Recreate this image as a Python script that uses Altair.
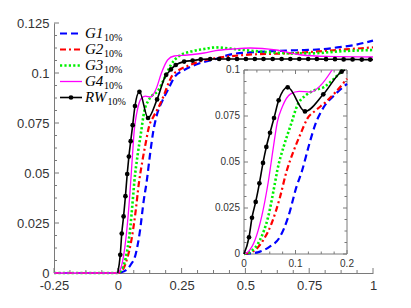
import altair as alt
import pandas as pd

# ---------------- data ----------------
g1_x = [-0.25, 0.0, 0.012, 0.031, 0.05, 0.07, 0.086, 0.102, 0.113, 0.126, 0.139, 0.155, 0.175, 0.2,
        0.22, 0.26, 0.3125, 0.378, 0.45, 0.52, 0.587, 0.66, 0.73, 0.796, 0.86, 0.927, 1.0]
g1_y = [0, 0, 0.0003, 0.0013, 0.004, 0.0094, 0.0203, 0.0366, 0.0455, 0.059, 0.0708, 0.0799, 0.0862, 0.0925,
        0.0975, 0.1015, 0.1045, 0.1068, 0.1095, 0.1103, 0.1108, 0.1112, 0.1115, 0.1118, 0.1128, 0.114, 0.1162]

g2_x = [-0.25, 0.0, 0.01, 0.022, 0.0375, 0.0537, 0.07, 0.082, 0.0958, 0.11, 0.123, 0.139, 0.1586, 0.178,
        0.2, 0.21, 0.24, 0.273, 0.319, 0.378, 0.495, 0.69, 0.89, 1.0]
g2_y = [0, 0, 0.0006, 0.0022, 0.0076, 0.0167, 0.031, 0.0443, 0.0556, 0.0654, 0.0736, 0.078, 0.0826, 0.088,
        0.0953, 0.098, 0.1015, 0.1035, 0.1057, 0.1073, 0.109, 0.110, 0.1118, 0.1128]

g3_x = [-0.25, 0.0, 0.013, 0.031, 0.047, 0.06, 0.0647, 0.0777, 0.0906, 0.1036, 0.1197, 0.136, 0.155, 0.175,
        0.192, 0.208, 0.24, 0.286, 0.338, 0.384, 0.47, 0.58, 0.69, 0.75, 0.89, 1.0]
g3_y = [0, 0, 0.0013, 0.0076, 0.0203, 0.0384, 0.0455, 0.059, 0.0699, 0.0808, 0.0862, 0.0889, 0.0907, 0.0953,
        0.1, 0.104, 0.1085, 0.1107, 0.112, 0.1128, 0.1118, 0.1105, 0.1098, 0.1098, 0.111, 0.1115]

g4_x = [-0.25, 0.0, 0.0084, 0.0214, 0.0343, 0.047, 0.057, 0.0647, 0.0744, 0.0906, 0.107, 0.129, 0.149, 0.171,
        0.195, 0.221, 0.273, 0.338, 0.384, 0.45, 0.52, 0.62, 0.72, 0.82, 1.0]
g4_y = [0, 0, 0.0013, 0.0076, 0.0203, 0.039, 0.058, 0.0717, 0.080, 0.087, 0.0884, 0.088, 0.0917, 0.1,
        0.1065, 0.1085, 0.109, 0.110, 0.1112, 0.112, 0.1125, 0.1115, 0.109, 0.1083, 0.108]

rw_x = [0.0, 0.0097, 0.0155, 0.0227, 0.0299, 0.0369, 0.0434, 0.0505, 0.0583, 0.0673, 0.0848, 0.1184, 0.154,
        0.1896, 0.196, 0.208, 0.227, 0.26, 0.293, 0.325, 0.362, 0.397, 0.433, 0.467, 0.502, 0.537, 0.571,
        0.607, 0.642, 0.676, 0.711, 0.746, 0.78, 0.816, 0.851, 0.885, 0.92, 0.956, 0.989, 1.0]
rw_y = [0.0, 0.0091, 0.0197, 0.0283, 0.0384, 0.0495, 0.0582, 0.0659, 0.0739, 0.0835, 0.0906, 0.0775, 0.0868,
        0.0991, 0.1, 0.1018, 0.104, 0.1057, 0.1062, 0.1068, 0.107, 0.107, 0.107, 0.107, 0.107, 0.107, 0.107,
        0.107, 0.107, 0.107, 0.107, 0.107, 0.107, 0.1069, 0.1069, 0.1068, 0.1068, 0.1067, 0.1067, 0.1067]

rw_dot_x = [0.0097, 0.0155, 0.0227, 0.0299, 0.0369, 0.0434, 0.0505, 0.0583, 0.0673, 0.0848, 0.1184, 0.154,
            0.1896, 0.208, 0.227, 0.26, 0.293, 0.325, 0.362, 0.397, 0.433, 0.467, 0.502, 0.537, 0.571,
            0.607, 0.642, 0.676, 0.711, 0.746, 0.78, 0.816, 0.851, 0.885, 0.92, 0.956, 0.989]
rw_dot_y = [0.0091, 0.0197, 0.0283, 0.0384, 0.0495, 0.0582, 0.0659, 0.0739, 0.0835, 0.0906, 0.0775, 0.0868,
            0.0991, 0.1018, 0.104, 0.1057, 0.1062, 0.1068, 0.107, 0.107, 0.107, 0.107, 0.107, 0.107, 0.107,
            0.107, 0.107, 0.107, 0.107, 0.107, 0.107, 0.1069, 0.1069, 0.1068, 0.1068, 0.1067, 0.1067]

series_names = ["G1", "G2", "G3", "G4", "RW"]
legend_sub = "10%"

main_x_labels = [-0.25, 0, 0.25, 0.5, 0.75, 1]
main_y_labels = [0, 0.025, 0.05, 0.075, 0.1, 0.125]
inset_x_labels = [0, 0.1, 0.2]
inset_x_text = ["0", "0.1", "0.2"]
inset_y_labels = [0, 0.025, 0.05, 0.075, 0.1]
inset_y_text = ["0", "0.025", "0.05", "0.075", "0.1"]

# ---------------- layout / styles ----------------
W, H = 319, 250
AX = "#7a7a7a"
TXT = "#333333"
IL, IR, IT, IB = 190, 293, 47, 231   # inset box inside plot area (pixels)

xs = alt.Scale(domain=[-0.25, 1.0], nice=False, zero=False)
ys = alt.Scale(domain=[0, 0.125], nice=False)
xi = alt.Scale(domain=[0, 0.2], range=[IL, IR], nice=False, zero=False)
yi = alt.Scale(domain=[0, 0.1], range=[IB, IT], nice=False)

lab_expr = "replace(format(datum.value, '.3~f'), '\u2212', '-')"
xax = alt.Axis(title=None, values=main_x_labels, labelExpr=lab_expr,
               ticks=False, grid=False, domainColor=AX, domainWidth=1,
               labelFont="Liberation Sans", labelFontSize=13, labelColor=TXT,
               labelPadding=6, labelFlush=False, labelOverlap=False)
yax = alt.Axis(title=None, values=main_y_labels, labelExpr=lab_expr,
               ticks=False, grid=False, domainColor=AX, domainWidth=1,
               labelFont="Liberation Sans", labelFontSize=13, labelColor=TXT,
               labelPadding=5, labelFlush=False, labelOverlap=False)

styles = {
    "G1": dict(color="#0000ff", strokeDash=[7, 4], strokeWidth=2.2),
    "G2": dict(color="#ff0000", strokeDash=[6, 3, 2, 3], strokeWidth=2.2),
    "G3": dict(color="#00f000", strokeDash=[2.2, 2.2], strokeWidth=2.6),
    "G4": dict(color="#ff00ff", strokeWidth=1.3),
    "RW": dict(color="#000000", strokeWidth=1.6),
}
data = {
    "G1": (g1_x, g1_y), "G2": (g2_x, g2_y), "G3": (g3_x, g3_y),
    "G4": (g4_x, g4_y), "RW": (rw_x, rw_y),
}

one = pd.DataFrame({"a": [0]})

# ---------------- main plot ----------------
main_layers = []


def tick_vals(major, step, n):
    return [round(m + k * step, 6) for m in major[:-1] for k in range(1, n)]


def xrules(vals, scale, axis, y0, y1):
    return alt.Chart(pd.DataFrame({"t": vals})).mark_rule(color=AX, strokeWidth=1).encode(
        x=alt.X("t:Q", scale=scale, axis=axis), y=alt.value(y0), y2=alt.value(y1))


def yrules(vals, scale, axis, x0, x1):
    return alt.Chart(pd.DataFrame({"t": vals})).mark_rule(color=AX, strokeWidth=1).encode(
        y=alt.Y("t:Q", scale=scale, axis=axis), x=alt.value(x0), x2=alt.value(x1))


main_layers.append(xrules(main_x_labels, xs, xax, H, H - 5))
main_layers.append(xrules(tick_vals(main_x_labels, 0.0625, 4), xs, xax, H, H - 3))
main_layers.append(yrules(main_y_labels, ys, yax, 0, 5))
main_layers.append(yrules(tick_vals(main_y_labels, 0.00625, 4), ys, yax, 0, 3))

for name in series_names:
    xv, yv = data[name]
    main_layers.append(
        alt.Chart(pd.DataFrame({"x": xv, "y": yv})).mark_line(interpolate="monotone", **styles[name]).encode(
            x=alt.X("x:Q", scale=xs, axis=xax), y=alt.Y("y:Q", scale=ys, axis=yax)))

main_layers.append(
    alt.Chart(pd.DataFrame({"x": rw_dot_x, "y": rw_dot_y})).mark_circle(color="black", size=22, opacity=1).encode(
        x=alt.X("x:Q", scale=xs, axis=xax), y=alt.Y("y:Q", scale=ys, axis=yax)))

# legend (drawn by hand to get italic names with subscripts)
for i, name in enumerate(series_names):
    ly = 10.5 + 16 * i
    st = dict(styles[name])
    main_layers.append(alt.Chart(one).mark_rule(**st).encode(
        x=alt.value(6), x2=alt.value(28), y=alt.value(ly)))
    if name == "RW":
        main_layers.append(alt.Chart(one).mark_circle(color="black", size=22, opacity=1).encode(
            x=alt.value(17), y=alt.value(ly)))
    main_layers.append(alt.Chart(one).mark_text(
        text=name, font="Liberation Serif", fontStyle="italic", fontSize=15, color="black",
        align="left", baseline="alphabetic").encode(x=alt.value(31), y=alt.value(ly + 4.5)))
    main_layers.append(alt.Chart(one).mark_text(
        text=legend_sub, font="Liberation Serif", fontSize=10, color="black",
        align="left", baseline="alphabetic").encode(
        x=alt.value(53.5 if name == "RW" else 50), y=alt.value(ly + 7.5)))

main = alt.layer(*main_layers)

# ---------------- inset ----------------
inset_layers = []
inset_layers.append(alt.Chart(pd.DataFrame({"x0": [0.0], "x1": [0.2], "y0": [0.0], "y1": [0.1]}))
                    .mark_rect(fill="white", stroke=AX, strokeWidth=1).encode(
    x=alt.X("x0:Q", scale=xi, axis=None), x2="x1:Q",
    y=alt.Y("y0:Q", scale=yi, axis=None), y2="y1:Q"))

ixmin = tick_vals(inset_x_labels, 0.025, 4)
iymin = tick_vals(inset_y_labels, 0.00625, 4)
for vals, L in ((inset_x_labels, 4), (ixmin, 2.5)):
    inset_layers.append(xrules(vals, xi, None, IB, IB - L))
    inset_layers.append(xrules(vals, xi, None, IT, IT + L))
for vals, L in ((inset_y_labels, 4), (iymin, 2.5)):
    inset_layers.append(yrules(vals, yi, None, IL, IL + L))
    inset_layers.append(yrules(vals, yi, None, IR, IR - L))

inside = (alt.datum.x >= 0) & (alt.datum.x <= 0.2) & (alt.datum.y <= 0.1)
for name in series_names:
    xv, yv = data[name]
    inset_layers.append(
        alt.Chart(pd.DataFrame({"x": xv, "y": yv})).transform_filter(inside)
        .mark_line(interpolate="monotone", **styles[name]).encode(
            x=alt.X("x:Q", scale=xi, axis=None), y=alt.Y("y:Q", scale=yi, axis=None)))

inset_layers.append(
    alt.Chart(pd.DataFrame({"x": rw_dot_x, "y": rw_dot_y})).transform_filter(inside)
    .mark_circle(color="black", size=22, opacity=1).encode(
        x=alt.X("x:Q", scale=xi, axis=None), y=alt.Y("y:Q", scale=yi, axis=None)))

inset_layers.append(
    alt.Chart(pd.DataFrame({"t": inset_x_labels, "lab": inset_x_text})).mark_text(
        font="Liberation Sans", fontSize=10, color=TXT, baseline="middle", align="center").encode(
        x=alt.X("t:Q", scale=xi, axis=None), y=alt.value(IB + 9.5), text="lab:N"))
inset_layers.append(
    alt.Chart(pd.DataFrame({"t": inset_y_labels, "lab": inset_y_text})).mark_text(
        font="Liberation Sans", fontSize=10, color=TXT, baseline="middle", align="right").encode(
        y=alt.Y("t:Q", scale=yi, axis=None), x=alt.value(IL - 4), text="lab:N"))

inset = alt.layer(*inset_layers)

chart = alt.layer(main, inset).resolve_scale(x="independent", y="independent").properties(
    width=W, height=H,
    autosize=alt.AutoSizeParams(type="none"),
    padding={"left": 46, "top": 15, "right": 30, "bottom": 27},
).configure_view(stroke=None)

chart.save("out.html", embed_options={"renderer": "svg", "actions": False})
